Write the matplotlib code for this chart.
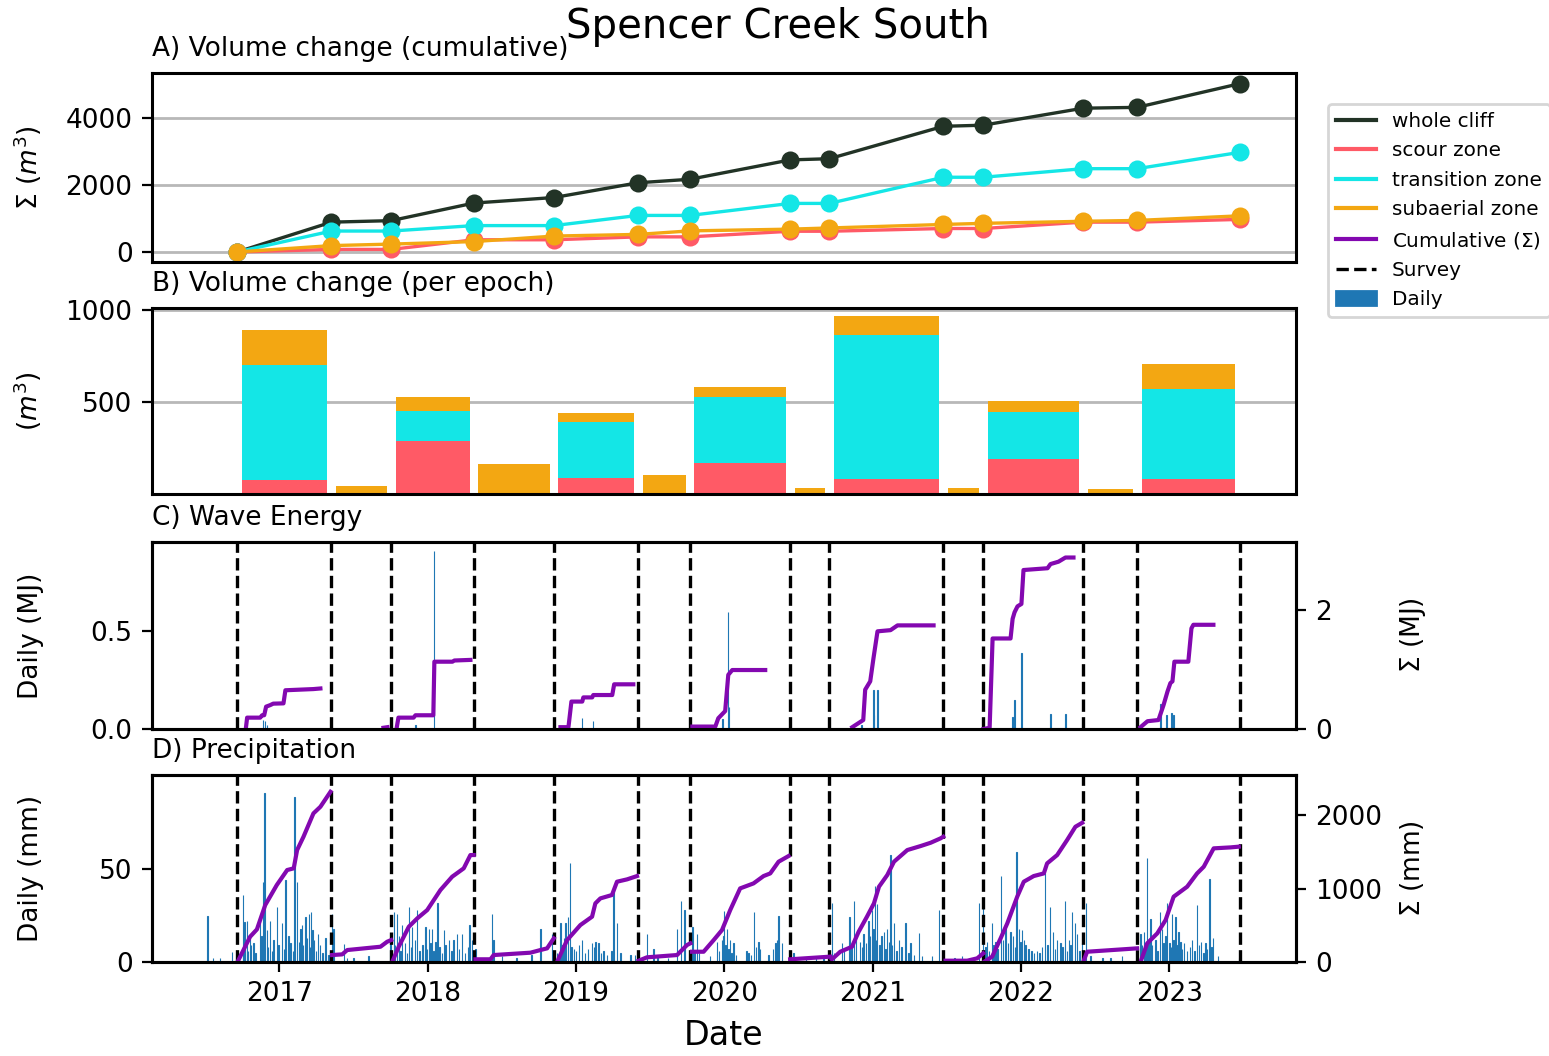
import matplotlib.pyplot as plt
import matplotlib.dates as mdates
from matplotlib.lines import Line2D
from matplotlib.patches import Patch
import numpy as np
import pandas as pd

plt.rcParams["font.size"] = 9.5
plt.rcParams["axes.linewidth"] = 1.1

SITE = "Spencer Creek South"

# survey dates (epoch boundaries)
survey_dates = ["2016-09-19", "2017-05-09", "2017-10-03", "2018-04-25", "2018-11-08",
                "2019-06-03", "2019-10-09", "2020-06-12", "2020-09-16", "2021-06-24",
                "2021-09-30", "2022-06-03", "2022-10-14", "2023-06-24"]

# volume change per epoch by zone (m^3)
scour_epoch = [76, 0, 288, 0, 87, 0, 168, 0, 82, 0, 190, 0, 82]
transition_epoch = [625, 0, 163, 0, 304, 0, 359, 0, 782, 0, 256, 0, 489]
subaerial_epoch = [190, 45, 75, 165, 50, 105, 52, 35, 105, 33, 62, 25, 138]

# daily wave energy (MJ), decimal year
wave_t = [2016.892, 2016.906, 2016.919, 2017.917, 2018.041, 2019.043, 2019.117,
          2019.987, 2020.025, 2020.032, 2020.925, 2021.005, 2021.010, 2021.032,
          2021.943, 2021.956, 2022.003, 2022.199, 2022.300, 2022.940, 2022.980,
          2023.015, 2023.028]
wave_mj = [0.045, 0.04, 0.02, 0.02, 0.91, 0.056, 0.04,
           0.05, 0.60, 0.11, 0.02, 0.20, 0.07, 0.20,
           0.06, 0.15, 0.386, 0.077, 0.077, 0.13, 0.07,
           0.083, 0.07]

# cumulative wave energy within each epoch (MJ)
wave_cum_t = [
    [2016.775, 2016.784, 2016.872, 2016.885, 2016.899, 2016.912, 2016.939, 2016.960,
     2017.027, 2017.040, 2017.229, 2017.276],
    [2017.701, 2017.728],
    [2017.789, 2017.802, 2017.904, 2017.917, 2018.038, 2018.045, 2018.167, 2018.180, 2018.288],
    [2018.895, 2018.949, 2018.969, 2019.043, 2019.050, 2019.110, 2019.117, 2019.245,
     2019.258, 2019.387],
    [2019.785, 2019.940, 2019.960, 2020.007, 2020.028, 2020.055, 2020.277],
    [2020.864, 2020.938, 2020.951, 2020.985, 2021.005, 2021.032, 2021.120, 2021.167, 2021.410],
    [2021.747, 2021.788, 2021.808, 2021.929, 2021.943, 2021.956, 2021.976, 2022.003,
     2022.017, 2022.179, 2022.199, 2022.253, 2022.300, 2022.354],
    [2022.806, 2022.853, 2022.927, 2022.961, 2022.988, 2023.008, 2023.022, 2023.035,
     2023.129, 2023.150, 2023.163, 2023.298],
]
wave_cum = [
    [0.0, 0.19, 0.19, 0.23, 0.23, 0.375, 0.40, 0.425, 0.43, 0.65, 0.67, 0.68],
    [0.02, 0.03],
    [0.0, 0.19, 0.19, 0.23, 0.23, 1.13, 1.13, 1.15, 1.16],
    [0.03, 0.03, 0.46, 0.46, 0.53, 0.53, 0.57, 0.57, 0.75, 0.75],
    [0.04, 0.04, 0.18, 0.30, 0.91, 0.99, 0.99],
    [0.03, 0.15, 0.66, 0.80, 1.19, 1.64, 1.66, 1.74, 1.74],
    [0.0, 0.02, 1.52, 1.52, 1.85, 1.96, 2.06, 2.10, 2.67, 2.70, 2.77, 2.81, 2.88, 2.88],
    [0.03, 0.13, 0.15, 0.40, 0.63, 0.77, 0.80, 1.13, 1.13, 1.69, 1.75, 1.75],
]

# daily precipitation (mm), decimal year: the larger rain days
rain_t = [2016.517, 2016.555, 2016.602, 2016.681, 2016.755, 2016.766, 2016.782, 2016.804,
          2016.827, 2016.872, 2016.890, 2016.901, 2016.917, 2016.939, 2016.962, 2016.984,
          2017.018, 2017.040, 2017.074, 2017.101, 2017.119, 2017.153, 2017.175, 2017.198,
          2017.214, 2017.231, 2017.261, 2017.310, 2017.355, 2017.364, 2017.434, 2017.457,
          2017.748, 2017.771, 2017.794, 2017.827, 2017.872, 2017.895, 2017.929, 2017.984,
          2018.007, 2018.030, 2018.052, 2018.067, 2018.108, 2018.142, 2018.175, 2018.198,
          2018.232, 2018.283, 2018.299, 2018.322, 2018.434, 2018.445, 2018.760, 2018.839,
          2018.895, 2018.929, 2018.944, 2018.958, 2018.985, 2019.041, 2019.109, 2019.131,
          2019.153, 2019.187, 2019.254, 2019.277, 2019.367, 2019.400, 2019.479, 2019.524,
          2019.682, 2019.709, 2019.731, 2019.787, 2019.817, 2019.906, 2019.951, 2019.985,
          2020.001, 2020.019, 2020.041, 2020.063, 2020.165, 2020.203, 2020.232, 2020.243,
          2020.345, 2020.367, 2020.390, 2020.468, 2020.670, 2020.727, 2020.794, 2020.846,
          2020.877, 2020.918, 2020.940, 2020.974, 2020.997, 2021.014, 2021.030, 2021.075,
          2021.098, 2021.120, 2021.142, 2021.176, 2021.221, 2021.255, 2021.311, 2021.334,
          2021.446, 2021.491, 2021.716, 2021.745, 2021.772, 2021.805, 2021.828, 2021.866,
          2021.895, 2021.929, 2021.970, 2021.985, 2022.008, 2022.019, 2022.086, 2022.109,
          2022.143, 2022.160, 2022.194, 2022.217, 2022.244, 2022.266, 2022.295, 2022.322,
          2022.345, 2022.363, 2022.379, 2022.413, 2022.440, 2022.469, 2022.603, 2022.806,
          2022.828, 2022.851, 2022.873, 2022.907, 2022.936, 2022.952, 2022.986, 2023.003,
          2023.020, 2023.042, 2023.063, 2023.098, 2023.154, 2023.188, 2023.215, 2023.244,
          2023.271, 2023.296, 2023.469]
rain_mm = [24.7, 2, 2, 5.5, 36, 21.7, 22, 15,
           10, 22, 43, 90.7, 17, 22, 12, 29.7,
           21, 44, 10, 88.9, 43, 20, 24, 25.6,
           27, 12, 15, 13, 25.6, 18, 9.5, 2,
           11, 27, 26, 20, 29.7, 19, 28, 19,
           18, 18, 11, 32, 17, 12, 12, 15,
           15, 20, 12, 7, 26, 12, 17.6, 15,
           20.8, 21, 24.4, 53.4, 7, 12, 10, 11,
           10, 6, 39, 21, 4, 4, 15, 7,
           17.6, 33, 28, 19, 15, 3, 11, 12,
           27.6, 18, 12, 10, 5, 27, 11, 7,
           10, 25, 10, 5, 3, 31.5, 10, 24,
           33, 11, 15, 22, 28, 41, 31, 16,
           18, 57.5, 21, 12, 21, 10, 15.4, 3,
           28, 1, 32, 34, 11, 21, 11, 46,
           18, 16, 59.3, 18, 17, 12, 5, 6,
           8, 47.7, 29.6, 16, 12, 10, 33, 12,
           27, 21, 15, 10, 32, 3, 2, 15,
           16, 55.7, 23, 12, 27, 18, 32, 10,
           26, 24, 16, 10, 12, 30.5, 11, 10,
           44.5, 13, 2]

# daily precipitation (mm): the smaller rain days
rain_small_t = [2016.760, 2016.770, 2016.790, 2016.812, 2016.840, 2016.880, 2016.925, 2016.950,
                2016.995, 2017.030, 2017.060, 2017.090, 2017.130, 2017.142, 2017.160, 2017.185,
                2017.205, 2017.222, 2017.245, 2017.275, 2017.290, 2017.330, 2017.500, 2017.600,
                2017.780, 2017.805, 2017.815, 2017.845, 2017.860, 2017.885, 2017.915, 2017.945,
                2017.965, 2017.995, 2018.020, 2018.040, 2018.080, 2018.095, 2018.120, 2018.160,
                2018.210, 2018.250, 2018.270, 2018.500, 2018.600, 2018.700, 2018.870, 2018.910,
                2018.920, 2018.970, 2019.000, 2019.020, 2019.060, 2019.080, 2019.120, 2019.170,
                2019.210, 2019.240, 2019.300, 2019.550, 2019.620, 2019.800, 2019.830, 2019.965,
                2019.995, 2020.010, 2020.030, 2020.050, 2020.080, 2020.150, 2020.180, 2020.215,
                2020.300, 2020.330, 2020.355, 2020.550, 2020.620, 2020.740, 2020.810, 2020.860,
                2020.890, 2020.930, 2020.955, 2020.985, 2021.005, 2021.020, 2021.045, 2021.060,
                2021.085, 2021.110, 2021.130, 2021.160, 2021.195, 2021.240, 2021.280, 2021.400,
                2021.550, 2021.600, 2021.650, 2021.760, 2021.785, 2021.815, 2021.840, 2021.880,
                2021.910, 2021.945, 2021.960, 2021.995, 2022.030, 2022.050, 2022.070, 2022.125,
                2022.180, 2022.230, 2022.280, 2022.310, 2022.335, 2022.395, 2022.550, 2022.680,
                2022.815, 2022.840, 2022.860, 2022.885, 2022.920, 2022.960, 2022.975, 2023.012,
                2023.030, 2023.050, 2023.075, 2023.085, 2023.120, 2023.140, 2023.170, 2023.200,
                2023.230, 2023.255, 2023.285, 2023.330]
rain_small_mm = [8, 12, 6, 9, 5, 14, 8, 6,
                 9, 7, 14, 6, 11, 18, 9, 13,
                 8, 17, 6, 9, 5, 4, 2, 3,
                 9, 14, 6, 10, 5, 8, 12, 6,
                 9, 7, 10, 6, 8, 5, 9, 6,
                 7, 5, 8, 3, 2, 4, 5, 9,
                 13, 8, 6, 9, 5, 7, 8, 5,
                 4, 6, 5, 3, 2, 6, 5, 6,
                 14, 9, 7, 5, 4, 6, 4, 8,
                 4, 7, 12, 2, 3, 5, 6, 9,
                 13, 8, 10, 14, 18, 12, 9, 14,
                 7, 11, 9, 6, 8, 5, 4, 3,
                 2, 3, 2, 8, 6, 9, 7, 12,
                 10, 14, 8, 11, 9, 7, 6, 5,
                 9, 7, 8, 6, 9, 6, 2, 3,
                 9, 7, 12, 9, 6, 10, 14, 8,
                 12, 9, 11, 7, 6, 8, 6, 9,
                 5, 7, 8, 3]

# cumulative precipitation within each epoch (mm)
rain_cum_t = [
    [2016.719, 2016.804, 2016.850, 2016.906, 2016.984, 2017.052, 2017.096, 2017.119,
     2017.162, 2017.229, 2017.276, 2017.344],
    [2017.355, 2017.423, 2017.457, 2017.681, 2017.726, 2017.753],
    [2017.760, 2017.804, 2017.872, 2017.929, 2017.996, 2018.086, 2018.165, 2018.243,
     2018.288, 2018.310],
    [2018.322, 2018.423, 2018.445, 2018.693, 2018.760, 2018.805, 2018.850],
    [2018.873, 2018.940, 2019.030, 2019.109, 2019.131, 2019.165, 2019.243, 2019.277,
     2019.345, 2019.412],
    [2019.423, 2019.479, 2019.682, 2019.749, 2019.771],
    [2019.783, 2019.861, 2019.929, 2019.985, 2020.041, 2020.108, 2020.198, 2020.266,
     2020.311, 2020.367, 2020.434],
    [2020.445, 2020.715],
    [2020.727, 2020.783, 2020.862, 2020.907, 2020.963, 2021.008, 2021.042, 2021.098,
     2021.143, 2021.233, 2021.322, 2021.390, 2021.457, 2021.475],
    [2021.491, 2021.637, 2021.704, 2021.745],
    [2021.749, 2021.805, 2021.862, 2021.907, 2021.974, 2022.019, 2022.086, 2022.154,
     2022.176, 2022.244, 2022.311, 2022.367, 2022.413],
    [2022.423, 2022.446, 2022.783],
    [2022.806, 2022.851, 2022.919, 2022.975, 2023.030, 2023.121, 2023.188, 2023.233,
     2023.300, 2023.413, 2023.469],
]
rain_cum = [
    [0, 344, 444, 775, 1048, 1252, 1275, 1524, 1705, 2023, 2113, 2317],
    [95, 104, 163, 208, 276, 299],
    [0, 208, 480, 594, 707, 980, 1161, 1275, 1456, 1456],
    [37, 37, 95, 127, 163, 186, 322],
    [4, 299, 503, 617, 798, 866, 912, 1093, 1125, 1170],
    [18, 64, 95, 231, 254],
    [140, 140, 299, 435, 707, 1002, 1070, 1170, 1206, 1365, 1442],
    [37, 73],
    [37, 140, 208, 412, 617, 798, 1025, 1184, 1365, 1524, 1578, 1623, 1683, 1705],
    [18, 18, 50, 118],
    [0, 73, 322, 526, 889, 1093, 1170, 1206, 1342, 1456, 1660, 1841, 1895],
    [18, 140, 186],
    [0, 254, 390, 571, 889, 1025, 1206, 1297, 1547, 1560, 1570],
]

C_WHOLE = "#223326"
C_SCOUR = "#ff5a66"
C_TRANS = "#14e6e6"
C_SUB = "#f3a712"
C_CUM = "#8308b0"
C_DAILY = "#1f77b4"


def to_dt(years):
    out = []
    for y in years:
        base = pd.Timestamp(int(y), 1, 1)
        out.append(base + pd.Timedelta(days=(y - int(y)) * 365.25))
    return out


surveys = pd.to_datetime(survey_dates)
scour = np.array(scour_epoch)
trans = np.array(transition_epoch)
sub = np.array(subaerial_epoch)

cum_scour = np.concatenate([[0], np.cumsum(scour)])
cum_trans = np.concatenate([[0], np.cumsum(trans)])
cum_sub = np.concatenate([[0], np.cumsum(sub)])
cum_whole = cum_scour + cum_trans + cum_sub

fig = plt.figure(figsize=(7.745, 5.28), dpi=200)
L, W = 0.0981, 0.7385
ax_a = fig.add_axes([L, 0.7519, W, 0.179])
ax_b = fig.add_axes([L, 0.5322, W, 0.176], sharex=ax_a)
ax_c = fig.add_axes([L, 0.3097, W, 0.177], sharex=ax_a)
ax_d = fig.add_axes([L, 0.0890, W, 0.177], sharex=ax_a)

fig.suptitle(SITE, fontsize=14.5, x=0.502, y=0.993)
TITLE_KW = dict(loc="left", fontsize=9.5)

# --- A) cumulative volume change
ax_a.yaxis.grid(True, color="#b8b8b8", lw=1.0)
ax_a.set_axisbelow(True)
for vals, col in [(cum_whole, C_WHOLE), (cum_scour, C_SCOUR),
                  (cum_trans, C_TRANS), (cum_sub, C_SUB)]:
    ax_a.plot(surveys, vals, "-o", color=col, lw=1.2, ms=5.5)
ax_a.set_ylim(-300, 5350)
ax_a.set_yticks([0, 2000, 4000])
ax_a.set_ylabel(r"$\Sigma$ ($m^3$)")
ax_a.set_title("A) Volume change (cumulative)", **TITLE_KW)

# --- B) per-epoch stacked bars
gap = pd.Timedelta(days=11)
left = surveys[:-1] + gap
width = (surveys[1:] - surveys[:-1]) - 2 * gap
ax_b.yaxis.grid(True, color="#b8b8b8", lw=1.0)
ax_b.set_axisbelow(True)
ax_b.bar(left, scour, width=width, align="edge", color=C_SCOUR)
ax_b.bar(left, trans, width=width, bottom=scour, align="edge", color=C_TRANS)
ax_b.bar(left, sub, width=width, bottom=scour + trans, align="edge", color=C_SUB)
ax_b.set_ylim(0, 1010)
ax_b.set_yticks([500, 1000])
ax_b.set_ylabel(r"($m^3$)")
ax_b.set_title("B) Volume change (per epoch)", **TITLE_KW)

# --- C) wave energy
ax_c.bar(to_dt(wave_t), wave_mj, width=1.0, color=C_DAILY, edgecolor=C_DAILY, lw=0.4)
ax_c.set_ylim(0, 0.955)
ax_c.set_yticks([0.0, 0.5])
ax_c.set_ylabel("Daily (MJ)")
ax_c.set_title("C) Wave Energy", **TITLE_KW)
ax_c2 = ax_c.twinx()
for t, v in zip(wave_cum_t, wave_cum):
    ax_c2.plot(to_dt(t), v, color=C_CUM, lw=1.5)
ax_c2.set_ylim(0, 3.14)
ax_c2.set_yticks([0, 2])
ax_c2.set_ylabel(r"$\Sigma$ (MJ)")

# --- D) precipitation
ax_d.bar(to_dt(rain_t), rain_mm, width=1.0, color=C_DAILY, edgecolor=C_DAILY, lw=0.4)
ax_d.bar(to_dt(rain_small_t), rain_small_mm, width=1.0, color=C_DAILY,
         edgecolor=C_DAILY, lw=0.4)
ax_d.set_ylim(0, 100.5)
ax_d.set_yticks([0, 50])
ax_d.set_ylabel("Daily (mm)")
ax_d.set_title("D) Precipitation", **TITLE_KW)
ax_d2 = ax_d.twinx()
for t, v in zip(rain_cum_t, rain_cum):
    ax_d2.plot(to_dt(t), v, color=C_CUM, lw=1.5)
ax_d2.set_ylim(0, 2544)
ax_d2.set_yticks([0, 1000, 2000])
ax_d2.set_ylabel(r"$\Sigma$ (mm)")

for ax in (ax_c, ax_d):
    for s in surveys:
        ax.axvline(s, color="black", ls="--", lw=1.2)

for ax in (ax_a, ax_b, ax_c):
    ax.tick_params(axis="x", bottom=False, labelbottom=False)

ax_d.xaxis.set_major_locator(mdates.YearLocator())
ax_d.xaxis.set_major_formatter(mdates.DateFormatter("%Y"))
ax_d.set_xlim(pd.Timestamp("2016-02-22"), pd.Timestamp("2023-11-09"))
ax_d.set_xlabel("Date", fontsize=12)

# line up the y labels in one column on each side
for ax in (ax_a, ax_b, ax_c, ax_d):
    ax.yaxis.set_label_coords(-0.094, 0.5)
for ax in (ax_c2, ax_d2):
    ax.yaxis.set_label_coords(1.089, 0.5)

handles = [
    Line2D([], [], color=C_WHOLE, lw=1.5, label="whole cliff"),
    Line2D([], [], color=C_SCOUR, lw=1.5, label="scour zone"),
    Line2D([], [], color=C_TRANS, lw=1.5, label="transition zone"),
    Line2D([], [], color=C_SUB, lw=1.5, label="subaerial zone"),
    Line2D([], [], color=C_CUM, lw=1.5, label=r"Cumulative ($\Sigma$)"),
    Line2D([], [], color="black", ls="--", lw=1.2, label="Survey"),
    Patch(color=C_DAILY, label="Daily"),
]
fig.legend(handles=handles, loc="upper left", bbox_to_anchor=(0.8573, 0.9015),
           borderaxespad=0, fontsize=7.2, labelspacing=0.52, framealpha=0.8)

fig.savefig("out.png", dpi=200)
